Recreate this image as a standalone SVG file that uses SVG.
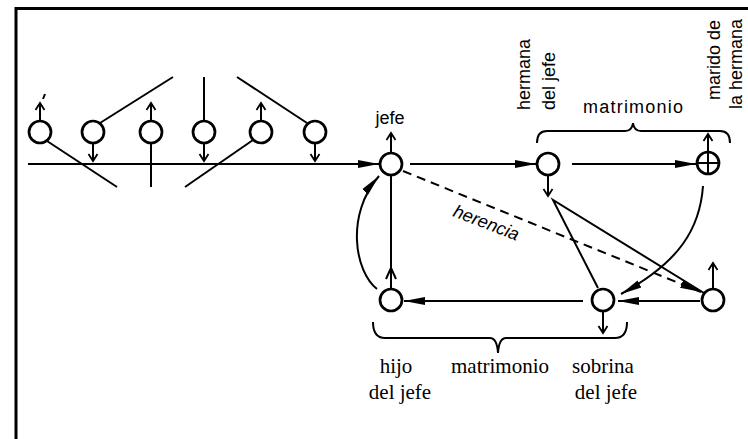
<svg xmlns="http://www.w3.org/2000/svg" width="748" height="439" viewBox="0 0 748 439">
<style>
.n{fill:#fff;stroke:#000;stroke-width:2.7}
.c{fill:none;stroke:#000;stroke-width:2}
.d{fill:none;stroke:#000;stroke-width:2;stroke-dasharray:9 6}
.s{font-family:"Liberation Sans",Arial,sans-serif;font-size:18px;fill:#000}
.r{font-family:"Liberation Serif","Times New Roman",serif;font-size:21px;fill:#000;text-anchor:middle}
</style>
<defs>
<marker id="fa" markerUnits="userSpaceOnUse" markerWidth="24" markerHeight="12" refX="21" refY="6" orient="auto"><path d="M0,2 L21,6 L0,10 Z" fill="#000"/></marker>
<marker id="oa" markerUnits="userSpaceOnUse" markerWidth="12" markerHeight="12" refX="8" refY="6" orient="auto"><path d="M1,1.5 L8,6 L1,10.5" fill="none" stroke="#000" stroke-width="1.8"/></marker>
</defs>
<rect width="748" height="439" fill="#fff"/>
<g id="frame"><path d="M16,439 L16,8.5 L748,8.5" fill="none" stroke="#000" stroke-width="3"/></g>

<g id="connectors">
<path class="c" d="M28,164 L379,164" marker-end="url(#fa)"/>
<path class="c" d="M47,141 L117,187"/>
<path class="c" d="M100,123 L173,77"/>
<path class="c" d="M151,143 L151,187"/>
<path class="c" d="M204,121 L204,77"/>
<path class="c" d="M253,140 L185,187"/>
<path class="c" d="M307,123 L237,77"/>
<path class="c" d="M40,121 L40,103" marker-end="url(#oa)"/>
<path class="c" d="M43,99 L45,94" stroke-width="1.5"/>
<path class="c" d="M93,143 L93,161" marker-end="url(#oa)"/>
<path class="c" d="M151,121 L151,103" marker-end="url(#oa)"/>
<path class="c" d="M204,143 L204,161" marker-end="url(#oa)"/>
<path class="c" d="M261,121 L261,103" marker-end="url(#oa)"/>
<path class="c" d="M315,143 L315,161" marker-end="url(#oa)"/>
<path class="c" d="M391,152 L391,133" marker-end="url(#oa)"/>
<path class="c" d="M410,164 L536,164" marker-end="url(#fa)"/>
<path class="c" d="M572,164 L696,164" marker-end="url(#fa)"/>
<path class="c" d="M708,151 L708,134" marker-end="url(#oa)"/>
<path class="c" d="M548,175 L548,196" marker-end="url(#oa)"/>
<path class="d" d="M403,171 L701,292" marker-end="url(#fa)"/>
<path class="c" d="M598,288 L553,200 L704,293"/>
<path class="c" d="M703,186 C700,228 680,262 621,294" marker-end="url(#fa)"/>
<path class="c" d="M583,301 L404,301" marker-end="url(#fa)"/>
<path class="c" d="M700,301 L618,301" marker-end="url(#fa)"/>
<path class="c" d="M713,288 L713,263" marker-end="url(#oa)"/>
<path class="c" d="M603,312 L603,333" marker-end="url(#oa)"/>
<path class="c" d="M391,288 L391,176"/>
<path class="c" d="M386,279 L391,268 L396,279"/>
<path class="c" d="M377,289 C355,272 345,215 379,176" marker-end="url(#fa)"/>
<path class="c" d="M537,143 Q537,131 547,131 L625,131 Q632,131 633,123 Q634,131 641,131 L720,131 Q730,131 730,143" stroke-width="2.4"/>
<path class="c" d="M373,322 Q373,338 385,338 L490,338 Q497,338 498,353 Q499,338 506,338 L615,338 Q627,338 627,322" stroke-width="2.4"/>
</g>

<g id="n1"><circle class="n" cx="40" cy="132" r="11"/></g>
<g id="n2"><circle class="n" cx="93" cy="132" r="11"/></g>
<g id="n3"><circle class="n" cx="151" cy="132" r="11"/></g>
<g id="n4"><circle class="n" cx="204" cy="132" r="11"/></g>
<g id="n5"><circle class="n" cx="261" cy="132" r="11"/></g>
<g id="n6"><circle class="n" cx="315" cy="132" r="11"/></g>

<g id="jefe"><circle class="n" cx="391" cy="164" r="11"/><text class="s" x="390" y="124" text-anchor="middle">jefe</text></g>
<g id="hermana"><circle class="n" cx="548" cy="164" r="11"/>
<text class="s" transform="translate(530,110) rotate(-90)">hermana</text>
<text class="s" transform="translate(555,110) rotate(-90)">del jefe</text></g>
<g id="marido"><circle class="n" cx="708" cy="163" r="11"/><path d="M697,163 L719,163 M708,152 L708,174" stroke="#000" stroke-width="2"/>
<text class="s" transform="translate(720,100) rotate(-90)">marido de</text>
<text class="s" transform="translate(742,109) rotate(-90)">la hermana</text></g>
<g id="hijo"><circle class="n" cx="391" cy="300" r="11"/><text class="r" x="396" y="373">hijo</text><text class="r" x="400" y="399">del jefe</text></g>
<g id="sobrina"><circle class="n" cx="603" cy="300" r="11"/><text class="r" x="603" y="373">sobrina</text><text class="r" x="606" y="399">del jefe</text></g>
<g id="marido2"><circle class="n" cx="713" cy="300" r="11"/></g>

<g id="labels">
<text class="s" x="633" y="113" text-anchor="middle" textLength="100">matrimonio</text>
<text class="r" x="500" y="373">matrimonio</text>
<text class="s" font-style="italic" transform="translate(452,216) rotate(21)">herencia</text>
</g>
</svg>
